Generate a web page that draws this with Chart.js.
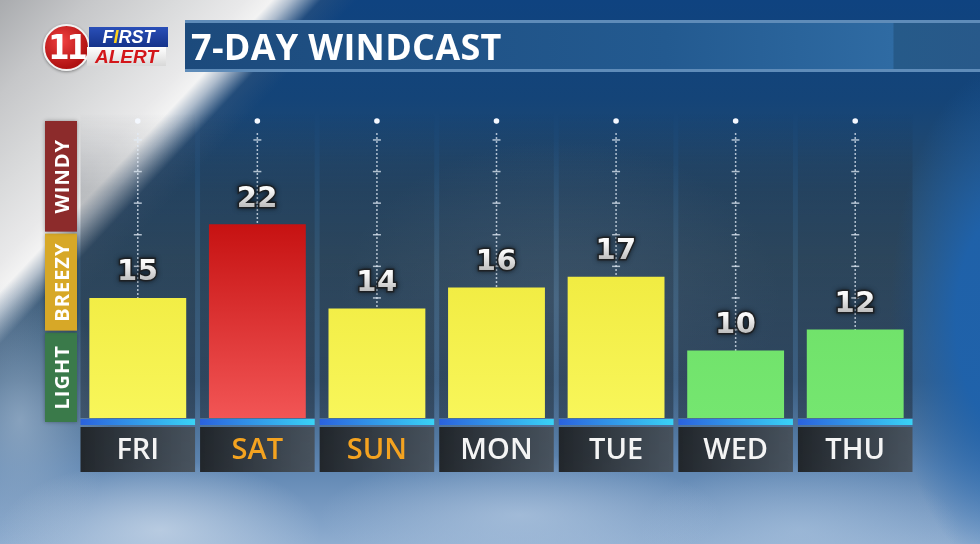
<!DOCTYPE html>
<html lang="en">
<head>
<meta charset="UTF-8">
<title>7-Day Windcast</title>
<script src="https://cdn.jsdelivr.net/npm/chart.js"></script>
<style>
  body {
    margin: 0;
    width: 980px;
    height: 544px;
    overflow: hidden;
    position: relative;
    font-family: 'Open Sans', sans-serif;
    background:
      radial-gradient(ellipse 160px 70px at 160px 530px, rgba(200,215,232,0.75), rgba(200,215,232,0) 100%),
      radial-gradient(ellipse 200px 60px at 520px 515px, rgba(185,205,228,0.6), rgba(185,205,228,0) 100%),
      radial-gradient(ellipse 160px 70px at 800px 530px, rgba(170,195,222,0.55), rgba(170,195,222,0) 100%),
      radial-gradient(ellipse 90px 140px at 20px 420px, rgba(160,182,205,0.7), rgba(160,182,205,0) 100%),
      radial-gradient(ellipse 220px 160px at 560px 300px, rgba(110,135,160,0.35), rgba(110,135,160,0) 100%),
      radial-gradient(ellipse 110px 250px at 1000px 320px, rgba(30,98,172,0.95) 40%, rgba(30,98,172,0) 100%),
      linear-gradient(133deg, #a9abae 0%, #c6c7c9 6%, #dadbdc 12%, #e9e9ea 16.5%, #f3f3f3 18.3%, rgba(200,208,218,0.85) 19.6%, rgba(70,95,125,0.3) 21.6%, rgba(40,70,110,0) 24%),
      linear-gradient(180deg, #0f4380 0%, #144478 18%, #22496f 30%, #33546f 48%, #3c5f82 70%, #5f86b2 86%, #8fadd0 100%);
  }
  #windChart { position: absolute; left: 0; top: 0; }
  .logo { position: absolute; left: 43px; top: 24px; width: 130px; height: 48px; }
  .logo .ring {
    position: absolute; left: 0; top: 0; width: 43px; height: 43px; border-radius: 50%;
    background: radial-gradient(circle at 40% 35%, #f04040, #b01212 70%);
    border: 2px solid #f2f2f2; box-shadow: 0 1px 3px rgba(0,0,0,0.4);
    color: #fff; font: 900 34px/43px 'Liberation Sans Narrow', 'DejaVu Sans Condensed', sans-serif;
    text-align: center; letter-spacing: -3px;
  }
  .logo .first {
    position: absolute; left: 46px; top: 3px; width: 79px; height: 20px;
    background: linear-gradient(180deg, #2a4fb8, #15338a);
    color: #fff; font: italic 900 18px/20px 'Liberation Sans', sans-serif; text-align: center;
  }
  .logo .first b { color: #ffd21a; }
  .logo .alert {
    position: absolute; left: 44px; top: 23px; width: 79px; height: 19px;
    background: linear-gradient(180deg, #ffffff, #d8d8d8);
    color: #d3161a; font: italic 900 19px/19px 'Liberation Sans', sans-serif; text-align: center;
  }
  .titlebar {
    position: absolute; left: 185px; top: 20px; width: 795px; height: 46px;
    border-top: 3px solid #5f8cb9; border-bottom: 3px solid #5f8cb9;
    background: linear-gradient(90deg, #1c4a7c 0%, #235a90 60%, #2f6ba3 88.4%, #265a89 88.5%, #28598a 100%);
    color: #fff; font-weight: 700; font-size: 36px; line-height: 47px; padding-left: 6px;
    letter-spacing: 0.3px; box-sizing: content-box;
  }
</style>
</head>
<body>
  <canvas id="windChart" width="980" height="544"></canvas>
  <div class="logo">
    <div class="ring">11</div>
    <div class="first">F<b>I</b>RST</div>
    <div class="alert">ALERT</div>
  </div>
  <div class="titlebar">7-DAY WINDCAST</div>

<script>
  // data
  const days = ['FRI', 'SAT', 'SUN', 'MON', 'TUE', 'WED', 'THU'];
  const windSpeeds = [15, 22, 14, 16, 17, 10, 12];
  const weekendDays = ['SAT', 'SUN'];
  const levelNames = ['LIGHT', 'BREEZY', 'WINDY'];
  const levelEdges = [11.8, 21.2];       // where the side scale changes level
  const gustLimits = [13, 20];            // bar colour: green below, red at / above
  const axisMin = 3.6;
  const axisMax = 31.8;
  const tickStep = 3;

  const levelColors = ['#3a7a4a', '#d7a827', '#8c2b2b'];

  function barColour(ctx, v) {
    const area = ctx.chart.chartArea;
    if (!area) return '#f4f04a';
    const g = ctx.chart.ctx.createLinearGradient(0, area.top, 0, area.bottom);
    if (v >= gustLimits[1]) {
      g.addColorStop(0.3, '#c30d0d');
      g.addColorStop(1, '#f25555');
    } else if (v >= gustLimits[0]) {
      g.addColorStop(0.4, '#efe93c');
      g.addColorStop(1, '#f8f65a');
    } else {
      g.addColorStop(0.4, '#6ddf66');
      g.addColorStop(1, '#75e670');
    }
    return g;
  }

  // columns, dotted scales, strips and day boxes behind the bars
  const backdrop = {
    id: 'backdrop',
    beforeDatasetsDraw(chart) {
      const { ctx, chartArea: a, scales: { x, y } } = chart;
      const half = (x.getPixelForValue(1) - x.getPixelForValue(0)) / 2 - 2.5;
      const bars = chart.getDatasetMeta(0).data;
      ctx.save();

      // side level scale
      const bounds = [a.bottom + 4, y.getPixelForValue(levelEdges[0]), y.getPixelForValue(levelEdges[1]), a.top];
      for (let i = 0; i < levelNames.length; i++) {
        const top = bounds[i + 1] + (i < 2 ? 1 : 0);
        const bot = bounds[i] - (i > 0 ? 1 : 0);
        ctx.fillStyle = levelColors[i];
        ctx.shadowColor = 'rgba(0,0,0,0.35)';
        ctx.shadowBlur = 4;
        ctx.fillRect(45, top, 32, bot - top);
        ctx.shadowBlur = 0;
        ctx.save();
        ctx.translate(62, (top + bot) / 2);
        ctx.rotate(-Math.PI / 2);
        ctx.fillStyle = '#ffffff';
        ctx.font = "700 20px 'Open Sans', sans-serif";
        ctx.letterSpacing = '1px';
        ctx.textAlign = 'center';
        ctx.textBaseline = 'middle';
        ctx.fillText(levelNames[i], 0, 1);
        ctx.restore();
      }

      days.forEach((day, i) => {
        const cx = x.getPixelForValue(i);
        const left = cx - half, right = cx + half;

        // dark column
        const cg = ctx.createLinearGradient(0, a.top - 8, 0, a.bottom);
        cg.addColorStop(0, 'rgba(30,40,52,0)');
        cg.addColorStop(0.25, 'rgba(30,40,52,0.25)');
        cg.addColorStop(1, 'rgba(28,34,42,0.45)');
        ctx.fillStyle = cg;
        ctx.fillRect(left, a.top - 8, right - left, a.bottom - a.top + 8);

        // dotted scale line
        const barTop = bars[i].y;
        ctx.fillStyle = 'rgba(225,235,245,0.75)';
        for (let py = a.top + 12; py < barTop; py += 4) {
          ctx.fillRect(cx - 0.75, py, 1.5, 2);
        }
        for (let v = Math.ceil(axisMin / tickStep) * tickStep; v <= axisMax; v += tickStep) {
          const py = y.getPixelForValue(v);
          if (py < barTop && py > a.top + 8) ctx.fillRect(cx - 4, py - 0.75, 8, 1.5);
        }
        ctx.beginPath();
        ctx.fillStyle = '#f4f8ff';
        ctx.arc(cx, a.top, 2.8, 0, Math.PI * 2);
        ctx.fill();

        // blue strip
        const sg = ctx.createLinearGradient(left, 0, right, 0);
        sg.addColorStop(0, '#2a62de');
        sg.addColorStop(1, '#39d3f6');
        ctx.fillStyle = sg;
        ctx.fillRect(left, a.bottom + 1, right - left, 6);

        // day box
        const bg = ctx.createLinearGradient(left, 0, right, 0);
        bg.addColorStop(0, 'rgba(30,33,36,0.95)');
        bg.addColorStop(1, 'rgba(70,78,86,0.9)');
        ctx.fillStyle = bg;
        ctx.fillRect(left, a.bottom + 9, right - left, 45);
        ctx.fillStyle = weekendDays.includes(day) ? '#f4a320' : '#f4f4f4';
        ctx.font = "600 29px 'Open Sans', sans-serif";
        ctx.textAlign = 'center';
        ctx.textBaseline = 'middle';
        ctx.fillText(day, cx, a.bottom + 33);
      });
      ctx.restore();
    },
    afterDatasetsDraw(chart) {
      const { ctx } = chart;
      const bars = chart.getDatasetMeta(0).data;
      ctx.save();
      ctx.font = "700 29px 'DejaVu Sans', sans-serif";
      ctx.letterSpacing = '0.5px';
      ctx.textAlign = 'center';
      ctx.textBaseline = 'middle';
      bars.forEach((bar, i) => {
        const ty = bar.y - 25;
        const label = String(windSpeeds[i]);
        const tg = ctx.createLinearGradient(0, ty - 10, 0, ty + 10);
        tg.addColorStop(0, '#fafafa');
        tg.addColorStop(1, '#b5b5b5');
        ctx.shadowColor = 'rgba(0,0,0,0.85)';
        ctx.shadowBlur = 5;
        ctx.lineWidth = 3;
        ctx.strokeStyle = 'rgba(30,30,30,0.8)';
        ctx.strokeText(label, bar.x, ty);
        ctx.shadowBlur = 0;
        ctx.fillStyle = tg;
        ctx.fillText(label, bar.x, ty);
      });
      ctx.restore();
    }
  };

  new Chart(document.getElementById('windChart'), {
    type: 'bar',
    data: {
      labels: days,
      datasets: [{
        data: windSpeeds,
        backgroundColor: ctx => barColour(ctx, windSpeeds[ctx.dataIndex]),
        borderWidth: 0,
        categoryPercentage: 1,
        barPercentage: 0.81
      }]
    },
    options: {
      responsive: false,
      animation: false,
      layout: { padding: { left: 78, right: 65, top: 121, bottom: 126 } },
      scales: {
        x: { display: false },
        y: { display: false, min: axisMin, max: axisMax, ticks: { stepSize: tickStep } }
      },
      plugins: { legend: { display: false }, tooltip: { enabled: false } }
    },
    plugins: [backdrop]
  });
</script>
</body>
</html>
